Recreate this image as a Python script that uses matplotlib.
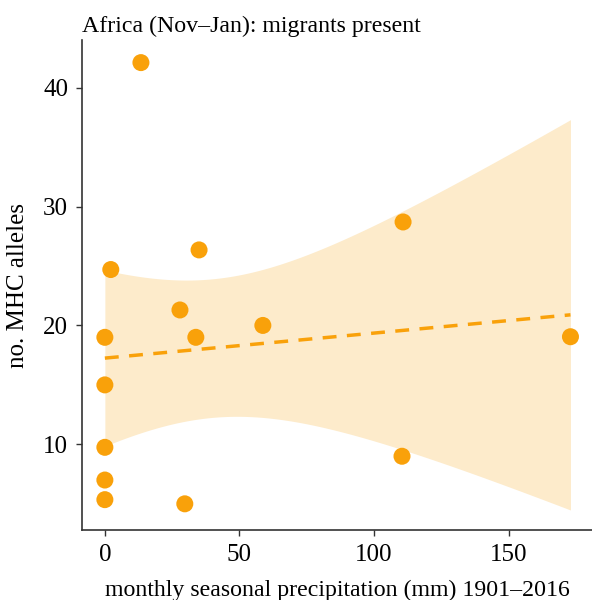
import numpy as np
import matplotlib
matplotlib.use("Agg")
import matplotlib.pyplot as plt

precip = [13.4, 0, 0, 0, 0, 0, 2.2, 27.9, 33.8, 35.0, 29.7, 58.7, 110.8, 110.4, 173.0]
alleles = [42.1, 19.0, 15.0, 9.75, 7.0, 5.35, 24.7, 21.3, 19.0, 26.35, 5.0, 20.0, 28.7, 9.0, 19.05]
title = "Africa (Nov\u2013Jan): migrants present"
xlabel = "monthly seasonal precipitation (mm) 1901\u20132016"
ylabel = "no. MHC alleles"
xticks = [0, 50, 100, 150]
yticks = [10, 20, 30, 40]

plt.rcParams['font.family'] = ['Liberation Serif', 'DejaVu Serif']
color = '#F9A10A'

x = np.array(precip, float)
y = np.array(alleles, float)
n = len(x)
X = np.column_stack([np.ones(n), x])
beta, *_ = np.linalg.lstsq(X, y, rcond=None)
resid = y - X @ beta
s2 = resid @ resid / (n - 2)
XtXi = np.linalg.inv(X.T @ X)
xs = np.linspace(x.min(), x.max(), 200)
Xs = np.column_stack([np.ones_like(xs), xs])
fit = Xs @ beta
se = np.sqrt(s2 * np.einsum('ij,jk,ik->i', Xs, XtXi, Xs))
tcrit = 2.160  # t(0.975, 13)

fig = plt.figure(figsize=(5.92, 6.0), dpi=100)
ax = fig.add_axes([0.1385, 0.1167, 0.8615, 0.8166])
ax.fill_between(xs, fit - tcrit * se, fit + tcrit * se, color='#FDEBCB', lw=0, zorder=1)
ax.plot(xs, fit, ls=(0, (4, 3)), color=color, lw=2.5, zorder=2)
ax.scatter(x, y, s=150, color=color, edgecolors='none', zorder=3)

ax.set_xlim(-8.5, 181)
ax.set_ylim(2.8, 44)
ax.set_xticks(xticks)
ax.set_yticks(yticks)
ax.tick_params(labelsize=18, length=4, width=1, color='#333333', pad=6)
for side in ['top', 'right']:
    ax.spines[side].set_visible(False)
for side in ['left', 'bottom']:
    ax.spines[side].set_linewidth(1.2)
    ax.spines[side].set_color('#333333')
ax.set_xlabel(xlabel, fontsize=17.2, labelpad=10)
ax.set_ylabel(ylabel, fontsize=18, labelpad=10)
ax.set_title(title, fontsize=17.2, loc='left', pad=6)
fig.savefig("out.png", dpi=100)
